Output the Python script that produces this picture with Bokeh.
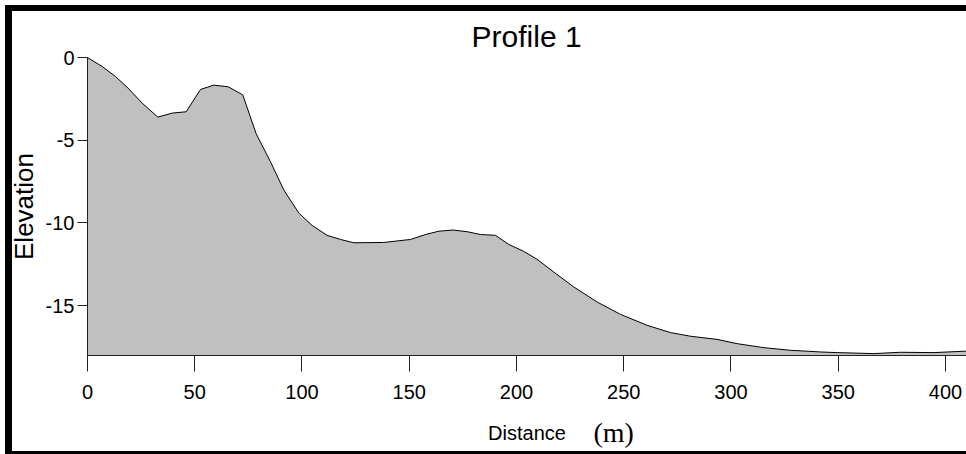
from bokeh.plotting import figure
from bokeh.models import Range1d, FixedTicker, Label
from bokeh.embed import file_html
from bokeh.resources import INLINE

# ---- data ----
distance = [0, 6.8, 13.1, 19.3, 25.5, 32.8, 39.5, 46, 52.7, 58.9, 65.6, 72.4, 78.6,
            85.3, 91.5, 98.5, 104.7, 111.7, 118, 124.2, 138.1, 150.6, 157.6, 163.8,
            170.5, 177, 183.2, 190.2, 196.4, 203.4, 209.6, 217.4, 226.7, 237.6, 248.5,
            260.9, 271.8, 281.1, 293.5, 302.9, 315.3, 327.7, 341.7, 349.5, 366.6, 379,
            394.6, 409.8]
elevation = [0, -0.54, -1.15, -1.9, -2.76, -3.6, -3.36, -3.28, -1.93, -1.67, -1.77,
             -2.26, -4.6, -6.3, -8.0, -9.4, -10.15, -10.75, -11.0, -11.2, -11.18, -11.0,
             -10.7, -10.5, -10.43, -10.53, -10.7, -10.75, -11.3, -11.72, -12.2, -12.97,
             -13.87, -14.78, -15.53, -16.19, -16.63, -16.85, -17.04, -17.3, -17.54,
             -17.7, -17.8, -17.84, -17.9, -17.82, -17.84, -17.75]
x_ticks = [0, 50, 100, 150, 200, 250, 300, 350, 400]
y_ticks = [0, -5, -10, -15]
y_tick_labels = ["0", "-5", "-10", "-15"]
x_limits = (0, 409.8)
y_limits = (-18.02, 0)
title_text = "Profile 1"
x_label = "Distance"
x_unit = "(m)"
y_label = "Elevation"

SANS = "Liberation Sans"

# The plotting frame covers the whole page; both axes sit at the edges of the
# data limits, and the margins around them hold the texts.
view_x = (-40.56, 409.8)
view_y = (-24.0, 3.447)

p = figure(width=966, height=454, output_backend="svg", toolbar_location=None,
           x_range=Range1d(*view_x), y_range=Range1d(*view_y),
           min_border_left=0, min_border_right=0, min_border_top=0,
           min_border_bottom=0)
p.outline_line_color = None
p.grid.visible = False
p.background_fill_color = "white"
p.border_fill_color = "white"

baseline = [y_limits[0]] * len(distance)
p.varea(x=distance, y1=baseline, y2=elevation, fill_color="#c0c0c0")
p.line(distance, elevation, line_color="black", line_width=1)

# title (as a text annotation above the data area)
p.add_layout(Label(x=204.7, y=1.27, text=title_text, text_align="center",
                   text_baseline="alphabetic", text_font=SANS,
                   text_font_size="30px", text_color="black"))

# x axis
xa = p.xaxis[0]
xa.fixed_location = y_limits[0]
xa.bounds = x_limits
xa.ticker = FixedTicker(ticks=x_ticks)
xa.minor_tick_line_color = None
xa.major_tick_out = 16
xa.major_tick_in = 0
xa.major_label_standoff = 13
xa.major_label_text_font = SANS
xa.major_label_text_font_size = "20px"
xa.major_label_text_color = "black"
xa.axis_line_color = "#222222"
xa.major_tick_line_color = "#222222"
xa.axis_label = x_label
xa.axis_label_text_font = SANS
xa.axis_label_text_font_size = "20px"
xa.axis_label_text_font_style = "normal"
xa.axis_label_text_color = "black"
xa.axis_label_standoff = 20

# y axis
ya = p.yaxis[0]
ya.fixed_location = x_limits[0]
ya.bounds = y_limits
ya.ticker = FixedTicker(ticks=y_ticks)
ya.major_label_overrides = {t: s for t, s in zip(y_ticks, y_tick_labels)}
ya.minor_tick_line_color = None
ya.major_tick_out = 10
ya.major_tick_in = 0
ya.major_label_standoff = 3
ya.major_label_text_font = SANS
ya.major_label_text_font_size = "20px"
ya.major_label_text_color = "black"
ya.axis_line_color = "#222222"
ya.major_tick_line_color = "#222222"
ya.axis_label = y_label
ya.axis_label_text_font = SANS
ya.axis_label_text_font_size = "26px"
ya.axis_label_text_font_style = "normal"
ya.axis_label_text_color = "black"
ya.axis_label_standoff = 4

# "(m)" unit in serif beside the axis label
p.add_layout(Label(x=235.9, y=-22.68, text=x_unit, text_baseline="alphabetic",
                   text_font="Liberation Serif", text_font_size="28px",
                   text_color="black"))

# thick frame around the whole picture (pure decoration, drawn with CSS)
p.stylesheets = [
    ":host::after { content: ''; position: absolute; left: 5px; top: 5px; "
    "width: 1000px; height: 453px; border-style: solid; border-color: black; "
    "border-width: 6px 7px 7px 7px; box-sizing: border-box; "
    "pointer-events: none; z-index: 100; }"
]

open("out.html", "w").write(file_html(p, INLINE))
